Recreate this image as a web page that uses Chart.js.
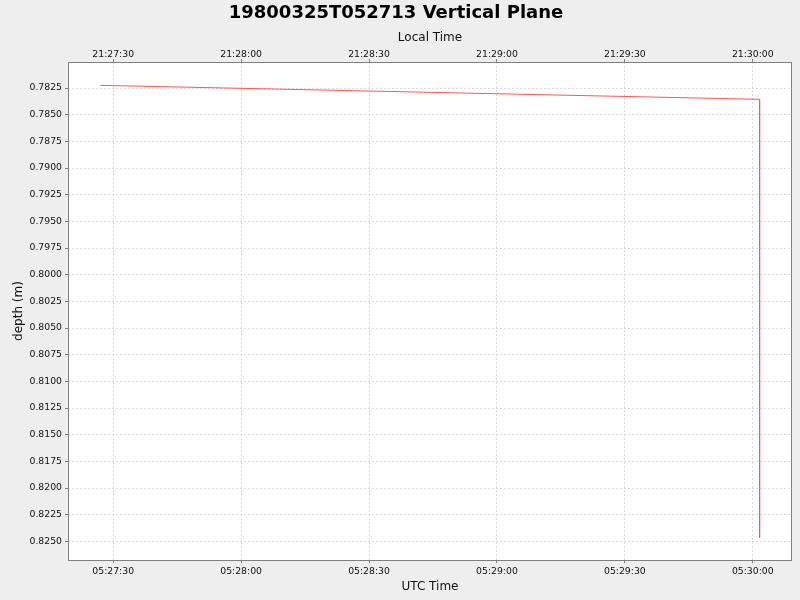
<!DOCTYPE html>
<html>
<head>
<meta charset="utf-8">
<script src="https://cdn.jsdelivr.net/npm/chart.js@4.4.1/dist/chart.umd.min.js"></script>
<style>
  html, body { margin: 0; padding: 0; background: #eeeeee; }
  #wrap { width: 800px; height: 600px; }
</style>
</head>
<body>
<div id="wrap"><canvas id="chart" width="800" height="600"></canvas></div>
<script>
'use strict';

// ── DATA ──
const utcTimes = ['05:27:27', '05:30:01.6', '05:30:01.6'];
const depths = [0.78225, 0.78356, 0.82466];

const xTickLabels = ['05:27:30', '05:28:00', '05:28:30', '05:29:00', '05:29:30', '05:30:00'];
const yTickValues = [0.7825, 0.7850, 0.7875, 0.7900, 0.7925, 0.7950, 0.7975, 0.8000, 0.8025,
  0.8050, 0.8075, 0.8100, 0.8125, 0.8150, 0.8175, 0.8200, 0.8225, 0.8250];

const xRange = ['05:27:19.4', '05:30:09.2'];
const yRange = [0.78006, 0.82675];
const localOffsetHours = -8;

// ── HELPERS ──
const toSec = (s) => {
  const [h, m, sec] = s.split(':').map(Number);
  return h * 3600 + m * 60 + sec;
};
const pad = (n) => String(n).padStart(2, '0');
const fmtTime = (t) => {
  const d = ((Math.round(t) % 86400) + 86400) % 86400;
  return `${pad(Math.floor(d / 3600))}:${pad(Math.floor(d / 60) % 60)}:${pad(d % 60)}`;
};

const FONT = 'DejaVu Sans';
const tickFont = { family: FONT, size: 9.3 };
const titleFont = { family: FONT, size: 12 };
const GRID = '#dadada';
const AXIS = '#808080';

const xTickSecs = xTickLabels.map(toSec);
const setTicks = (vals) => (scale) => { scale.ticks = vals.map(v => ({ value: v })); };

// plot background + frame
const frame = {
  id: 'frame',
  beforeDraw(chart) {
    const { ctx, chartArea: a } = chart;
    ctx.save();
    ctx.fillStyle = '#eeeeee';
    ctx.fillRect(0, 0, chart.width, chart.height);
    ctx.fillStyle = '#ffffff';
    ctx.fillRect(a.left, a.top, a.right - a.left, a.bottom - a.top);
    ctx.restore();
  },
  afterDraw(chart) {
    const { ctx, chartArea: a } = chart;
    ctx.save();
    ctx.strokeStyle = AXIS;
    ctx.lineWidth = 1;
    ctx.strokeRect(a.left + 0.5, a.top + 0.5, a.right - a.left - 1, a.bottom - a.top);
    ctx.restore();
  }
};

const xCommon = {
  type: 'linear',
  min: toSec(xRange[0]),
  max: toSec(xRange[1]),
  afterBuildTicks: setTicks(xTickSecs),
  grid: { color: GRID, tickColor: AXIS, tickLength: 3, tickBorderDash: [] },
  border: { display: false, dash: [2, 2] },
};

new Chart(document.getElementById('chart'), {
  type: 'line',
  data: {
    datasets: [{
      data: utcTimes.map((t, i) => ({ x: toSec(t), y: depths[i] })),
      borderColor: '#ff5555',
      borderWidth: 1,
      pointRadius: 0,
      tension: 0,
      fill: false,
    }],
  },
  options: {
    responsive: false,
    animation: false,
    layout: { padding: { left: 0, right: 8, top: 0, bottom: 0 } },
    plugins: {
      legend: { display: false },
      tooltip: { enabled: false },
      title: {
        display: true,
        text: '19800325T052713 Vertical Plane',
        color: '#000',
        font: { family: FONT, size: 18, weight: 'bold' },
        padding: { top: 3, bottom: 0 },
      },
    },
    scales: {
      x: {
        ...xCommon,
        position: 'bottom',
        afterFit: (s) => { s.height = 40; },
        ticks: { font: tickFont, color: '#111', padding: 3, maxRotation: 0, callback: (v) => fmtTime(v) },
        title: { display: true, text: 'UTC Time', font: titleFont, color: '#111', padding: { top: 0, bottom: 6 } },
      },
      x2: {
        ...xCommon,
        position: 'top',
        afterFit: (s) => { s.height = 37.4; },
        ticks: { font: tickFont, color: '#111', padding: -1, maxRotation: 0,
          callback: (v) => fmtTime(v + localOffsetHours * 3600) },
        title: { display: true, text: 'Local Time', font: titleFont, color: '#111', padding: { top: 6, bottom: 0 } },
      },
      y: {
        type: 'linear',
        reverse: true,
        min: yRange[0],
        max: yRange[1],
        afterBuildTicks: setTicks(yTickValues),
        afterFit: (s) => { s.width = 68; },
        grid: { color: GRID, tickColor: AXIS, tickLength: 3, tickBorderDash: [] },
        border: { display: false, dash: [2, 2] },
        ticks: { font: tickFont, color: '#111', padding: 3, callback: (v) => v.toFixed(4) },
        title: { display: true, text: 'depth (m)', font: titleFont, color: '#111', padding: { top: 12, bottom: 0 } },
      },
    },
  },
  plugins: [frame],
});
</script>
</body>
</html>
